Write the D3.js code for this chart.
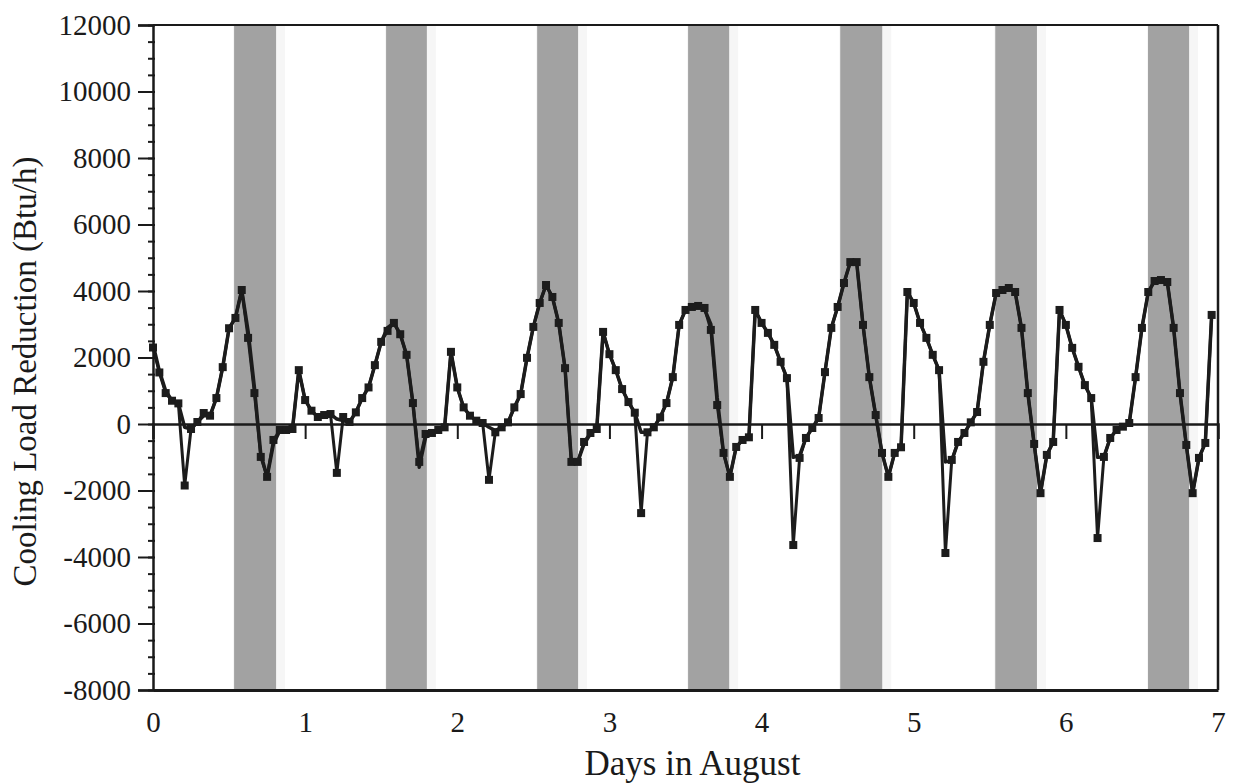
<!DOCTYPE html>
<html>
<head>
    <meta charset="UTF-8">
    <title>Cooling Load Reduction</title>
    <style>
        body {
            margin: 0;
            background-color: #FFFFFF;
        }
        svg {
            background-color: #FFFFFF;
            font-family: "Liberation Serif", "DejaVu Serif", serif;
        }
    </style>
</head>
<body>
    <div id="graph-container"></div>
    <script src="https://cdn.jsdelivr.net/npm/d3@7"></script>
    <script>
        // hourly values, one row per day (Btu/h)
        let measured = [
            2300, 1550, 930, 700, 620, -1850, -150, 60, 330, 250, 780, 1710, 2880, 3190, 4030, 2590, 930, -990, -1590, -480, -180, -180, -150, 1620,
            720, 400, 210, 270, 300, -1470, 210, 60, 350, 780, 1100, 1770, 2470, 2800, 3040, 2700, 2080, 630, -1140, -300, -270, -180, -100, 2170,
            1100, 500, 250, 100, 30, -1680, -250, -100, 50, 500, 900, 1990, 2920, 3640, 4180, 3820, 3040, 1680, -1140, -1140, -540, -270, -150, 2770,
            2100, 1620, 1050, 660, 340, -2680, -250, -100, 200, 630, 1410, 2980, 3430, 3520, 3550, 3490, 2830, 570, -870, -1590, -690, -480, -400, 3430,
            3040, 2740, 2380, 1870, 1380, -3640, -1020, -420, -120, 180, 1560, 2890, 3520, 4240, 4870, 4870, 2980, 1410, 270, -870, -1590, -870, -700, 3970,
            3640, 3040, 2590, 2080, 1620, -3880, -1080, -540, -270, 50, 360, 1870, 2980, 3940, 4030, 4090, 3970, 2890, 930, -600, -2080, -930, -540, 3430,
            2980, 2290, 1720, 1170, 780, -3430, -990, -420, -180, -80, 30, 1410, 2890, 3970, 4300, 4330, 4270, 2890, 930, -630, -2080, -1020, -570, 3280
        ];
        let simulated = [
            2400, 1600, 1000, 700, 620, -100, -150, 60, 250, 250, 780, 1710, 2880, 3190, 4030, 2800, 1100, -900, -1590, -600, -200, -180, -150, 1620,
            720, 400, 210, 270, 300, 150, 100, 60, 350, 780, 1100, 1770, 2470, 2900, 3040, 2700, 2080, 630, -1300, -400, -270, -180, -100, 2170,
            1100, 500, 250, 100, 30, -100, -200, -100, 50, 500, 900, 1990, 2920, 3640, 4180, 3820, 3040, 1680, -1140, -1140, -600, -300, -150, 2770,
            2100, 1620, 1050, 660, 340, -250, -250, -100, 200, 630, 1410, 2980, 3430, 3520, 3550, 3450, 3000, 800, -870, -1590, -690, -480, -400, 3430,
            3040, 2740, 2380, 1870, 1380, -1000, -950, -420, -120, 180, 1560, 2890, 3520, 4240, 4870, 4870, 2980, 1410, 270, -870, -1590, -870, -700, 3970,
            3640, 3040, 2590, 2080, 1620, -1140, -1100, -540, -270, 50, 360, 1870, 2980, 3940, 4030, 4090, 3970, 2890, 930, -600, -2080, -930, -540, 3430,
            2980, 2290, 1720, 1170, 780, -1000, -990, -420, -180, -80, 30, 1410, 2890, 3970, 4300, 4330, 4270, 2890, 930, -630, -2080, -1020, -570, 3280
        ];
        // shaded periods (days)
        let bandStart = [0.533, 1.532, 2.525, 3.517, 4.517, 5.536, 6.54];
        let bandEnd = [0.809, 1.80, 2.794, 3.787, 4.793, 5.81, 6.81];
        let xTicks = [0, 1, 2, 3, 4, 5, 6, 7];
        let yTicks = [-8000, -6000, -4000, -2000, 0, 2000, 4000, 6000, 8000, 10000, 12000];

        let margin = {
                top: 25,
                right: 15,
                bottom: 93,
                left: 153
            },
            width = 1233 - margin.left - margin.right,
            height = 783 - margin.top - margin.bottom;

        let x = d3.scaleLinear().domain([0, 7]).range([0, width]);
        let y = d3.scaleLinear().domain([-8000, 12000]).range([height, 0]);

        let svg = d3.select("#graph-container").append("svg")
            .attr("width", 1233)
            .attr("height", 783)
            .append("g")
            .attr("transform", "translate(" + margin.left + "," + margin.top + ")");

        // shaded bands
        let bands = bandStart.map((s, i) => ({s: s, e: bandEnd[i]}));
        svg.selectAll(".halo")
            .data(bands)
            .enter().append("rect")
            .attr("x", d => x(d.s) - 1)
            .attr("y", 0)
            .attr("width", d => x(d.e) - x(d.s) + 10)
            .attr("height", height)
            .attr("fill", "#f6f6f6");
        svg.selectAll(".band")
            .data(bands)
            .enter().append("rect")
            .attr("x", d => x(d.s))
            .attr("y", 0)
            .attr("width", d => x(d.e) - x(d.s))
            .attr("height", height)
            .attr("fill", "#a2a2a2");

        // zero line with day ticks
        svg.append("g")
            .attr("transform", "translate(0," + y(0) + ")")
            .call(d3.axisBottom(x).tickValues([1, 2, 3, 4, 5, 6]).tickSize(15).tickFormat(""))
            .call(g => g.select(".domain").attr("stroke-width", 2.5).attr("stroke", "#1a1a1a"))
            .call(g => g.selectAll(".tick line").attr("stroke-width", 2).attr("stroke", "#1a1a1a"));

        let pts = measured.map((v, i) => ({t: i / 24, m: v, s: simulated[i]}));

        let simLine = d3.line().x(d => x(d.t)).y(d => y(d.s));
        let measLine = d3.line().x(d => x(d.t)).y(d => y(d.m));

        svg.append("path")
            .datum(pts)
            .attr("d", simLine)
            .attr("fill", "none")
            .attr("stroke", "#1c1c1c")
            .attr("stroke-width", 3.5)
            .attr("stroke-linejoin", "round");

        svg.append("path")
            .datum(pts)
            .attr("d", measLine)
            .attr("fill", "none")
            .attr("stroke", "#1c1c1c")
            .attr("stroke-width", 3)
            .attr("stroke-linejoin", "round");

        svg.selectAll(".point")
            .data(pts)
            .enter().append("rect")
            .attr("class", "point")
            .attr("x", d => x(d.t) - 4)
            .attr("y", d => y(d.m) - 4)
            .attr("width", 8)
            .attr("height", 8)
            .attr("fill", "#1c1c1c");

        // frame
        svg.append("line").attr("x1", 0).attr("x2", width).attr("y1", 0).attr("y2", 0)
            .attr("stroke", "#1a1a1a").attr("stroke-width", 2);
        svg.append("line").attr("x1", width).attr("x2", width).attr("y1", 0).attr("y2", height)
            .attr("stroke", "#1a1a1a").attr("stroke-width", 2.5);

        // x axis at bottom: labels only
        svg.append("g")
            .attr("transform", "translate(0," + height + ")")
            .call(d3.axisBottom(x).tickValues(xTicks).tickSize(0).tickPadding(21).tickFormat(d => String(d)))
            .call(g => g.select(".domain").attr("stroke-width", 3).attr("stroke", "#1a1a1a"))
            .call(g => g.selectAll("text").attr("font-size", 29).attr("font-family", "Liberation Serif").attr("fill", "#1a1a1a"));

        // y axis minor ticks
        svg.append("g")
            .call(d3.axisLeft(y).ticks(40).tickSize(7).tickFormat(""))
            .call(g => g.select(".domain").remove())
            .call(g => g.selectAll(".tick line").attr("stroke-width", 2).attr("stroke", "#1a1a1a").attr("transform", "translate(2,0)"));

        // y axis major ticks
        svg.append("g")
            .call(d3.axisLeft(y).tickValues(yTicks).tickSize(15).tickPadding(7).tickFormat(d => String(d)))
            .call(g => g.select(".domain").attr("stroke-width", 2.5).attr("stroke", "#1a1a1a"))
            .call(g => g.selectAll(".tick line").attr("stroke-width", 2).attr("stroke", "#1a1a1a"))
            .call(g => g.selectAll("text").attr("font-size", 29).attr("font-family", "Liberation Serif").attr("fill", "#1a1a1a"));

        // titles
        svg.append("text")
            .attr("x", width / 2 + 7)
            .attr("y", height + 85)
            .attr("text-anchor", "middle")
            .attr("font-size", 35)
            .attr("fill", "#1a1a1a")
            .text("Days in August");

        svg.append("text")
            .attr("transform", "translate(" + (-117) + "," + (height / 2 + 14) + ") rotate(-90)")
            .attr("text-anchor", "middle")
            .attr("font-size", 33)
            .attr("fill", "#1a1a1a")
            .text("Cooling Load Reduction (Btu/h)");
    </script>
</body>
</html>
